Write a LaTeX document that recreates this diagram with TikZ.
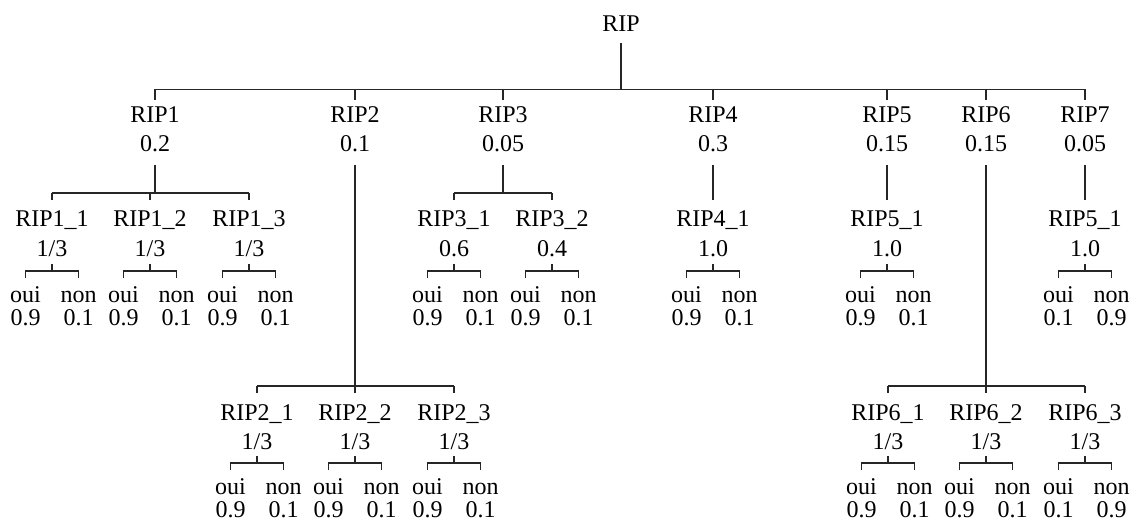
\documentclass[tikz,border=0pt]{standalone}
\usepackage{fontspec}
\setmainfont{Liberation Serif}
\newcommand\pn[5]{%
  \node[lab] (#1) at (#2,#3) {#4};
  \node[lab] (#1p) at (#2,#3+29.7) {#5};}
\newcommand\lf[5]{%
  \node[lab] (#1o) at (#2-26.5,#3+31) {oui};
  \node[lab] (#1n) at (#2+26.5,#3+31) {non};
  \node[lab] (#1ov) at (#2-26.5,#3+54) {#4};
  \node[lab] (#1nv) at (#2+26.5,#3+54) {#5};
  \draw[edge] (#1p |- 0,#3-7) -- (#1p |- 0,#3);
  \draw[edge] (#1o |- 0,#3+7) -- (#1o |- 0,#3) -- (#1n |- 0,#3) -- (#1n |- 0,#3+7);}
\begin{document}
\begin{tikzpicture}[x=1pt,y=-1pt,
  lab/.style={inner sep=0pt, anchor=base, font=\fontsize{24}{28}\selectfont},
  edge/.style={line width=1.2pt, draw=black!85}]
\useasboundingbox (0,0) rectangle (1132,521);
% root
\node[lab] (rip) at (621,31.7) {RIP};
\draw[edge] (rip |- 0,43.3) -- (rip |- 0,89.3);
% level 1
\pn{r1}{155}{122.3}{RIP1}{0.2}
\pn{r2}{355}{122.3}{RIP2}{0.1}
\pn{r3}{503}{122.3}{RIP3}{0.05}
\pn{r4}{713}{122.3}{RIP4}{0.3}
\pn{r5}{887}{122.3}{RIP5}{0.15}
\pn{r6}{986}{122.3}{RIP6}{0.15}
\pn{r7}{1085}{122.3}{RIP7}{0.05}
\draw[edge] (r1 |- 0,89.3) -- (r7 |- 0,89.3);
\foreach \n in {r1,r2,r3,r4,r5,r6,r7} \draw[edge] (\n |- 0,89.3) -- (\n |- 0,100);
% row A
\pn{a11}{52}{227}{RIP1\_1}{1/3}
\pn{a12}{150}{227}{RIP1\_2}{1/3}
\pn{a13}{249}{227}{RIP1\_3}{1/3}
\pn{a31}{454}{227}{RIP3\_1}{0.6}
\pn{a32}{552}{227}{RIP3\_2}{0.4}
\pn{a41}{713}{227}{RIP4\_1}{1.0}
\pn{a51}{887}{227}{RIP5\_1}{1.0}
\pn{a71}{1085}{227}{RIP5\_1}{1.0}
% row B
\pn{b21}{257}{420}{RIP2\_1}{1/3}
\pn{b22}{355}{420}{RIP2\_2}{1/3}
\pn{b23}{454}{420}{RIP2\_3}{1/3}
\pn{b61}{888}{420}{RIP6\_1}{1/3}
\pn{b62}{986}{420}{RIP6\_2}{1/3}
\pn{b63}{1085}{420}{RIP6\_3}{1/3}
% RIP1 children
\draw[edge] (r1p |- 0,165) -- (r1p |- 0,193);
\draw[edge] (a11 |- 0,193) -- (a13 |- 0,193);
\foreach \n in {a11,a12,a13} \draw[edge] (\n |- 0,193) -- (\n |- 0,200);
% RIP3 children
\draw[edge] (r3p |- 0,165) -- (r3p |- 0,193);
\draw[edge] (a31 |- 0,193) -- (a32 |- 0,193);
\foreach \n in {a31,a32} \draw[edge] (\n |- 0,193) -- (\n |- 0,200);
% single children
\draw[edge] (r4p |- 0,165) -- (a41 |- 0,200);
\draw[edge] (r5p |- 0,165) -- (a51 |- 0,200);
\draw[edge] (r7p |- 0,165) -- (a71 |- 0,200);
% RIP2 children
\draw[edge] (r2p |- 0,165) -- (r2p |- 0,386);
\draw[edge] (b21 |- 0,386) -- (b23 |- 0,386);
\foreach \n in {b21,b22,b23} \draw[edge] (\n |- 0,386) -- (\n |- 0,393);
% RIP6 children
\draw[edge] (r6p |- 0,165) -- (r6p |- 0,386);
\draw[edge] (b61 |- 0,386) -- (b63 |- 0,386);
\foreach \n in {b61,b62,b63} \draw[edge] (\n |- 0,386) -- (\n |- 0,393);
% leaves row A
\lf{a11}{52}{271}{0.9}{0.1}
\lf{a12}{150}{271}{0.9}{0.1}
\lf{a13}{249}{271}{0.9}{0.1}
\lf{a31}{454}{271}{0.9}{0.1}
\lf{a32}{552}{271}{0.9}{0.1}
\lf{a41}{713}{271}{0.9}{0.1}
\lf{a51}{887}{271}{0.9}{0.1}
\lf{a71}{1085}{271}{0.1}{0.9}
% leaves row B
\lf{b21}{257}{463}{0.9}{0.1}
\lf{b22}{355}{463}{0.9}{0.1}
\lf{b23}{454}{463}{0.9}{0.1}
\lf{b61}{888}{463}{0.9}{0.1}
\lf{b62}{986}{463}{0.9}{0.1}
\lf{b63}{1085}{463}{0.1}{0.9}
\end{tikzpicture}
\end{document}
